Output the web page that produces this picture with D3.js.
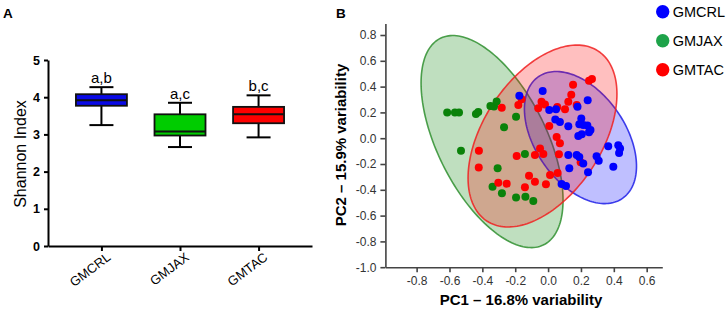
<!DOCTYPE html>
<html><head><meta charset="utf-8">
<script src="https://cdn.jsdelivr.net/npm/d3@7"></script>
<style>
body{margin:0;background:#fff;}
svg{display:block;font-family:"Liberation Sans",Arial,sans-serif;}
</style></head><body>
<svg id="chart" width="728" height="313"></svg>
<script>
// ---------- Panel A data (Shannon index box plots) ----------
const groups = ["GMCRL", "GMJAX", "GMTAC"];
const boxMin = [3.25, 2.66, 2.92];
const boxQ1 = [3.77, 2.97, 3.30];
const boxMedian = [3.92, 3.08, 3.54];
const boxQ3 = [4.08, 3.54, 3.74];
const boxMax = [4.27, 3.85, 4.05];
const sigLetters = ["a,b", "a,c", "b,c"];
const yTicksA = [0, 1, 2, 3, 4, 5];
const boxColors = ["#0a0ae6", "#00cc00", "#ff0000"];

// ---------- Panel B data (PCA) ----------
const pcGroups = ["GMCRL", "GMJAX", "GMTAC"];
const pcColors = ["#0000ff", "#0a820a", "#ff0000"];
const legendColors = ["#0000ff", "#1ea34a", "#ff0000"];
const gmcrlPC1 = [-0.175,-0.033,0.241,0.007,0.048,0.179,0.044,0.072,0.123,0.202,0.190,0.214,0.239,0.258,0.249,0.184,0.205,0.366,0.427,0.438,0.432,0.123,0.174,0.190,0.214,0.295,0.308,0.129,0.243,0.397,0.082,0.109];
const gmcrlPC2 = [0.329,0.366,0.294,0.219,0.224,0.244,0.145,0.126,0.092,0.153,0.108,0.102,0.098,0.064,0.046,0.017,0.030,-0.063,-0.055,-0.080,-0.115,-0.130,-0.130,-0.146,-0.196,-0.140,-0.174,-0.233,-0.264,-0.221,-0.355,-0.371];
const gmjaxPC1 = [-0.614,-0.567,-0.542,-0.439,-0.425,-0.351,-0.329,-0.313,-0.195,-0.268,-0.530,-0.141,-0.307,-0.338,-0.281,-0.195,-0.138,-0.090];
const gmjaxPC2 = [0.199,0.199,0.199,0.188,0.203,0.250,0.246,0.284,0.167,0.084,-0.097,-0.122,-0.233,-0.376,-0.427,-0.460,-0.453,-0.487];
const gmtacPC1 = [-0.282,-0.181,-0.161,-0.421,-0.422,-0.191,-0.303,-0.252,-0.141,-0.116,-0.080,-0.080,-0.049,-0.029,-0.013,0.012,0.058,0.066,0.072,0.052,0.007,-0.060,-0.040,-0.019,0.056,0.103,0.123,0.141,0.152,0.174,0.249,0.267,0.198];
const gmtacPC2 = [0.236,0.257,0.302,-0.097,-0.227,-0.138,-0.345,-0.353,-0.381,-0.291,-0.337,-0.130,-0.080,-0.122,-0.357,-0.285,-0.270,-0.125,-0.040,0.009,0.095,0.232,0.283,0.261,0.242,0.224,0.283,0.337,0.415,0.257,0.446,0.459,-0.187];
// confidence ellipses: centre, spread in PC1/PC2, correlation (GMCRL, GMJAX, GMTAC)
const ellCx = [0.197, -0.341, -0.034];
const ellCy = [0.005, -0.026, 0.017];
const ellSdx = [0.341, 0.432, 0.453];
const ellSdy = [0.512, 0.822, 0.705];
const ellR = [-0.433, -0.552, 0.462];
const ellFill = ["rgba(0,0,255,0.25)", "rgba(0,128,0,0.25)", "rgba(255,0,0,0.25)"];
const ellStroke = ["#1f1fe8", "#2f8f2f", "#f02020"];
const xTicksB = [-0.8,-0.6,-0.4,-0.2,0.0,0.2,0.4,0.6];
const yTicksB = [-1.0,-0.8,-0.6,-0.4,-0.2,0.0,0.2,0.4,0.6,0.8];

const svg = d3.select("#chart");
const fmt1 = d => d.toFixed(1); // hyphen minus as in the original

// ================= Panel A =================
const yA = d3.scaleLinear().domain([0,5]).range([246,60]);
const xA = d3.scalePoint().domain(groups).range([48,312]).padding(0.68);
const gA = svg.append("g");

gA.append("text").attr("x",3).attr("y",18).attr("font-size",13.5).attr("font-weight","bold").text("A");

const axYA = gA.append("g").attr("transform","translate(48,0)")
  .call(d3.axisLeft(yA).tickValues(yTicksA).tickFormat(d3.format("d")).tickSize(4).tickSizeOuter(0).tickPadding(4));
axYA.select(".domain").attr("stroke","#000").attr("stroke-width",2);
axYA.selectAll(".tick line").attr("stroke","#000").attr("stroke-width",2);
axYA.selectAll(".tick text").attr("font-size",12.5).attr("font-weight","bold").attr("fill","#000").attr("font-family","Liberation Sans, Arial");

const axXA = gA.append("g").attr("transform","translate(0,246)")
  .call(d3.axisBottom(xA).tickSize(5).tickSizeOuter(0).tickFormat(""));
axXA.select(".domain").attr("stroke","#000").attr("stroke-width",2);
axXA.selectAll(".tick line").attr("stroke","#000").attr("stroke-width",2);

groups.forEach((g,i)=>{
  gA.append("text").attr("font-size",13).attr("text-anchor","end")
    .attr("transform",`translate(${xA(g)+10},${259}) rotate(-37)`).text(g);
});

gA.append("text").attr("font-size",16).attr("text-anchor","middle")
  .attr("transform","translate(26,154) rotate(-90)").text("Shannon Index");

const bw = 51, cap = 24;
groups.forEach((g,i)=>{
  const cx = xA(g);
  const bg = gA.append("g");
  bg.append("line").attr("x1",cx).attr("x2",cx).attr("y1",yA(boxMax[i])).attr("y2",yA(boxQ3[i])).attr("stroke","#000").attr("stroke-width",2);
  bg.append("line").attr("x1",cx).attr("x2",cx).attr("y1",yA(boxQ1[i])).attr("y2",yA(boxMin[i])).attr("stroke","#000").attr("stroke-width",2);
  bg.append("line").attr("x1",cx-cap/2).attr("x2",cx+cap/2).attr("y1",yA(boxMax[i])).attr("y2",yA(boxMax[i])).attr("stroke","#000").attr("stroke-width",2);
  bg.append("line").attr("x1",cx-cap/2).attr("x2",cx+cap/2).attr("y1",yA(boxMin[i])).attr("y2",yA(boxMin[i])).attr("stroke","#000").attr("stroke-width",2);
  bg.append("rect").attr("x",cx-bw/2).attr("width",bw).attr("y",yA(boxQ3[i])).attr("height",yA(boxQ1[i])-yA(boxQ3[i]))
    .attr("fill",boxColors[i]).attr("stroke","#111").attr("stroke-width",1.8);
  bg.append("line").attr("x1",cx-bw/2).attr("x2",cx+bw/2).attr("y1",yA(boxMedian[i])).attr("y2",yA(boxMedian[i])).attr("stroke","#111").attr("stroke-width",2);
  bg.append("text").attr("x",cx).attr("y",yA(boxMax[i])-4).attr("text-anchor","middle").attr("font-size",15).text(sigLetters[i]);
});

// ================= Panel B =================
const xB = d3.scaleLinear().domain([-0.99,0.695]).range([385.4,662.3]);
const yB = d3.scaleLinear().domain([-1.0,0.89]).range([267.2,23.4]);
const gB = svg.append("g");

gB.append("text").attr("x",336).attr("y",17.5).attr("font-size",13.5).attr("font-weight","bold").text("B");

// ellipses (draw GMJAX, GMCRL, GMTAC)
const ellOrder = [1,0,2];
const line = d3.line().x(d=>xB(d[0])).y(d=>yB(d[1])).curve(d3.curveLinearClosed);
ellOrder.forEach(i=>{
  const pts = d3.range(0,360,2).map(a=>{
    const t = a*Math.PI/180;
    return [ellCx[i] + ellSdx[i]*Math.cos(t),
            ellCy[i] + ellSdy[i]*(ellR[i]*Math.cos(t) + Math.sqrt(1-ellR[i]*ellR[i])*Math.sin(t))];
  });
  gB.append("path").attr("d",line(pts)).attr("fill",ellFill[i]).attr("stroke",ellStroke[i]).attr("stroke-width",1.6).attr("stroke-opacity",0.85);
});

// points
const ptsSets = [[gmjaxPC1,gmjaxPC2,1],[gmtacPC1,gmtacPC2,2],[gmcrlPC1,gmcrlPC2,0]];
ptsSets.forEach(([xs,ys,ci])=>{
  gB.append("g").selectAll("circle").data(xs.map((x,k)=>[x,ys[k]])).join("circle")
    .attr("cx",d=>xB(d[0])).attr("cy",d=>yB(d[1])).attr("r",4).attr("fill",pcColors[ci]);
});

const axYB = gB.append("g").attr("transform","translate(385.4,0)")
  .call(d3.axisLeft(yB).tickValues(yTicksB).tickFormat(fmt1).tickSize(5).tickSizeOuter(0).tickPadding(4));
const axXB = gB.append("g").attr("transform","translate(0,267.2)")
  .call(d3.axisBottom(xB).tickValues(xTicksB).tickFormat(fmt1).tickSize(5).tickSizeOuter(0).tickPadding(4));
[axYB,axXB].forEach(ax=>{
  ax.select(".domain").attr("stroke","#444").attr("stroke-width",1.6);
  ax.selectAll(".tick line").attr("stroke","#444").attr("stroke-width",1.6);
  ax.selectAll(".tick text").attr("font-size",12).attr("fill","#333").attr("font-family","Liberation Sans, Arial");
});

gB.append("text").attr("font-size",15).attr("font-weight","bold").attr("text-anchor","middle")
  .attr("transform","translate(346,145) rotate(-90)").text("PC2 – 15.9% variability");
gB.append("text").attr("font-size",15).attr("font-weight","bold").attr("text-anchor","middle")
  .attr("x",521).attr("y",305).text("PC1 – 16.8% variability");

// legend
pcGroups.forEach((g,i)=>{
  const lg = gB.append("g").attr("transform",`translate(662.7,${11.7+29*i})`);
  lg.append("circle").attr("r",6.7).attr("fill",legendColors[i]);
  lg.append("text").attr("x",10).attr("y",5).attr("font-size",14.5).text(g);
});
</script>
</body></html>
